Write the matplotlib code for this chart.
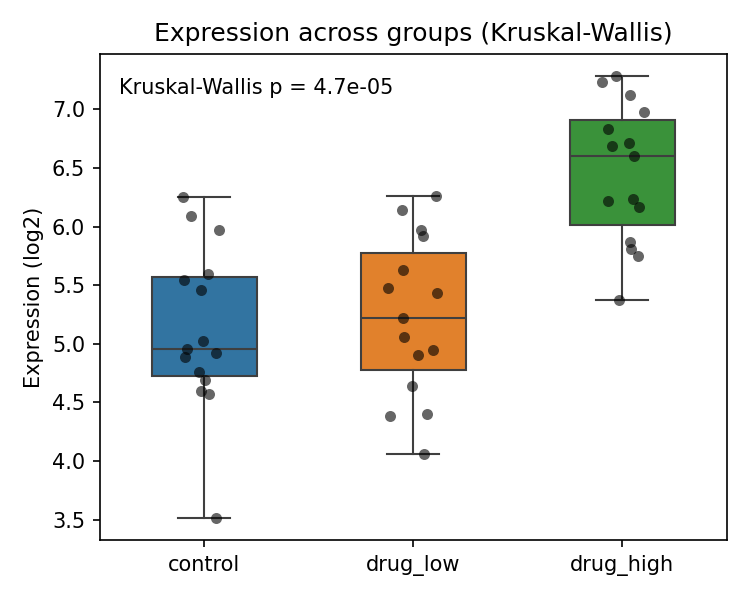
import numpy as np
import matplotlib
matplotlib.use("Agg")
import matplotlib.pyplot as plt

# ---------------------------------
# Data
# ---------------------------------
groups = ["control", "drug_low", "drug_high"]
colors = ["#3274a1", "#e1812c", "#3a923a"]

control = [6.249, 6.088, 5.974, 5.594, 5.546, 5.461, 5.025, 4.957,
           4.925, 4.889, 4.764, 4.696, 4.594, 4.574, 3.516]
drug_low = [6.263, 6.144, 5.971, 5.917, 5.631, 5.478, 5.433, 5.220,
            5.059, 4.948, 4.906, 4.642, 4.404, 4.387, 4.064]
drug_high = [7.283, 7.233, 7.119, 6.977, 6.836, 6.711, 6.683, 6.598,
             6.235, 6.215, 6.164, 5.869, 5.807, 5.747, 5.378]

p_text = "Kruskal-Wallis p = 4.7e-05"
data = [control, drug_low, drug_high]

# ---------------------------------
# Plot
# ---------------------------------
fig, ax = plt.subplots(figsize=(5, 4), dpi=150)
fig.subplots_adjust(left=0.133, right=0.969, top=0.91, bottom=0.1)

line_kw = dict(color="#3f3f3f", linewidth=1.0)
bp = ax.boxplot(data, positions=range(len(groups)), widths=0.5,
                patch_artist=True, showfliers=False,
                boxprops=dict(edgecolor="#3f3f3f", linewidth=1.0),
                medianprops=line_kw, whiskerprops=line_kw, capprops=line_kw,
                capwidths=0.25)
for patch, c in zip(bp["boxes"], colors):
    patch.set_facecolor(c)

# jittered points (strip plot)
rng = np.random.default_rng(3)
for i, vals in enumerate(data):
    x = i + rng.uniform(-0.12, 0.12, len(vals))
    ax.scatter(x, vals, s=28, color="black", alpha=0.6, linewidths=0,
               zorder=3)

ax.set_xlim(-0.5, 2.5)
ax.set_xticks(range(len(groups)))
ax.set_xticklabels(groups)
ax.set_ylabel("Expression (log2)")
ax.set_title("Expression across groups (Kruskal-Wallis)", fontsize=12)
ax.text(0.03, 0.95, p_text, transform=ax.transAxes, va="top", ha="left",
        fontsize=10)

plt.savefig("out.png")
